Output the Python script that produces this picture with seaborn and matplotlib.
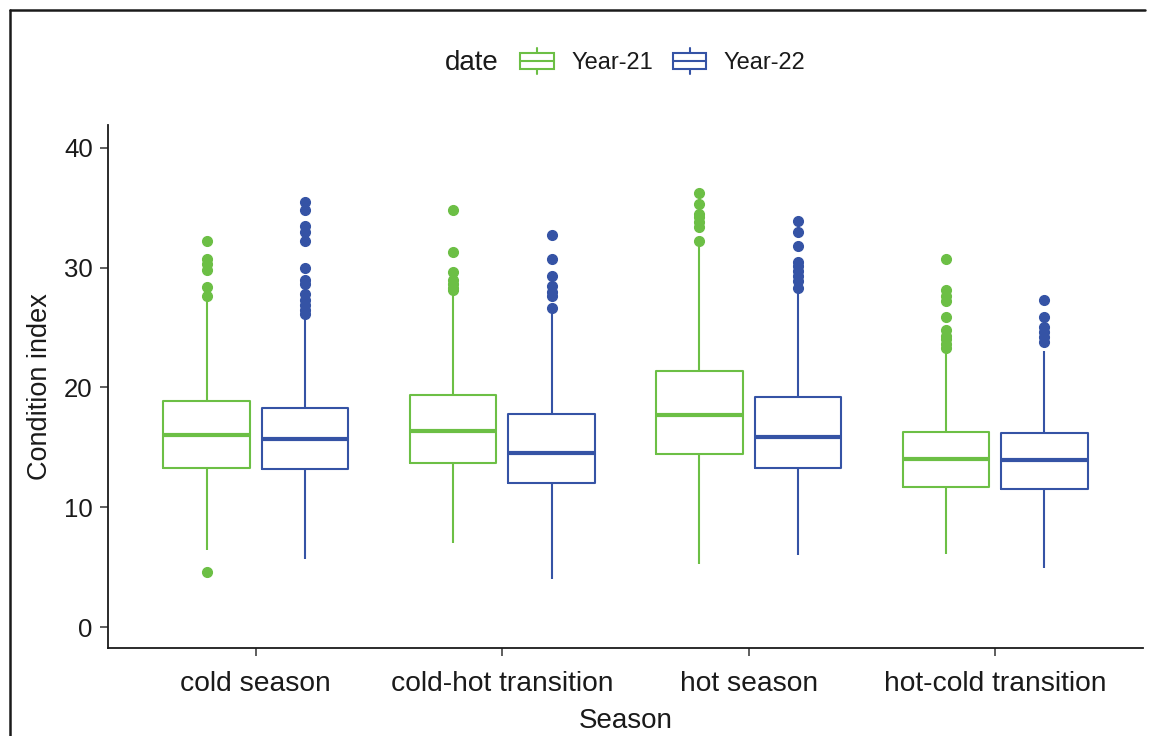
import matplotlib
matplotlib.use("Agg")
import matplotlib.pyplot as plt
from matplotlib.lines import Line2D
from matplotlib.patches import Patch, Rectangle
from matplotlib.legend_handler import HandlerBase
import seaborn as sns
import pandas as pd

# ---------------- data ----------------
seasons = ["cold season", "cold-hot transition", "hot season", "hot-cold transition"]
years = ["Year-21", "Year-22"]

# Year-21 box statistics per season
q1_21 = [13.3, 13.7, 14.4, 11.7]
med_21 = [16.0, 16.4, 17.7, 14.0]
q3_21 = [18.9, 19.4, 21.4, 16.3]
lo_21 = [6.4, 7.0, 5.3, 6.1]
hi_21 = [27.2, 27.8, 31.8, 22.9]
out_21 = [
    [4.6, 27.6, 28.4, 29.8, 30.3, 30.7, 32.2],
    [28.1, 28.3, 28.6, 29.0, 29.6, 31.3, 34.8],
    [32.2, 33.4, 33.8, 34.2, 34.5, 35.3, 36.2],
    [23.3, 23.6, 24.0, 24.3, 24.8, 25.9, 27.2, 27.6, 28.1, 30.7],
]

# Year-22 box statistics per season
q1_22 = [13.2, 12.0, 13.3, 11.5]
med_22 = [15.7, 14.5, 15.9, 13.9]
q3_22 = [18.3, 17.8, 19.2, 16.2]
lo_22 = [5.7, 4.0, 6.0, 4.9]
hi_22 = [25.9, 26.3, 27.9, 23.0]
out_22 = [
    [26.1, 26.5, 26.9, 27.3, 27.8, 28.6, 29.0, 30.0, 32.2, 33.0, 33.5, 34.8, 35.5],
    [26.6, 27.6, 28.0, 28.5, 29.3, 30.7, 32.7],
    [28.3, 28.9, 29.3, 29.7, 30.1, 30.5, 31.8, 33.0, 33.9],
    [23.8, 24.2, 24.6, 25.0, 25.9, 27.3],
]

colors = {"Year-21": "#6CBF45", "Year-22": "#3553A5"}

# Build a small table whose box statistics reproduce the values above
WEIGHT = 100
rows = []
for year, q1s, meds, q3s, los, his, outs in [
    ("Year-21", q1_21, med_21, q3_21, lo_21, hi_21, out_21),
    ("Year-22", q1_22, med_22, q3_22, lo_22, hi_22, out_22),
]:
    for i, s in enumerate(seasons):
        vals = [los[i], his[i]] + [q1s[i]] * WEIGHT + [meds[i]] * WEIGHT + [q3s[i]] * WEIGHT + outs[i]
        rows += [(s, year, v) for v in vals]
df = pd.DataFrame(rows, columns=["Season", "date", "Condition index"])

# ---------------- style ----------------
sns.set_style("ticks")
plt.rcParams["font.family"] = ["Liberation Sans", "DejaVu Sans"]
ink = "#1a1a1a"

fig = plt.figure(figsize=(11.52, 7.36), dpi=100)
ax = fig.add_axes([108 / 1152, 1 - 648 / 736, (1143 - 108) / 1152, (648 - 125) / 736])

sns.boxplot(
    data=df, x="Season", y="Condition index", hue="date",
    order=seasons, hue_order=years, palette=colors,
    fill=False, width=0.8, gap=0.125, showcaps=False, linewidth=1.5,
    medianprops={"linewidth": 3},
    flierprops={"marker": "o", "markersize": 7},
    legend=False, ax=ax,
)
for ln in ax.lines:
    if ln.get_marker() == "o":
        ln.set_markerfacecolor(ln.get_markeredgecolor())

ax.set_xlim(-0.6, 3.6)
ax.set_ylim(-1.75, 41.9)
ax.set_yticks([0, 10, 20, 30, 40])
ax.set_xlabel("Season", fontsize=20, color=ink, labelpad=8)
ax.set_ylabel("Condition index", fontsize=19.5, color=ink, labelpad=8)
ax.tick_params(axis="both", direction="out", length=6, width=1.1, color="#333333",
               labelcolor=ink)
ax.tick_params(axis="y", labelsize=18.5, pad=5)
ax.tick_params(axis="x", labelsize=20.3, pad=10.5)
for side in ["top", "right"]:
    ax.spines[side].set_visible(False)
for side in ["left", "bottom"]:
    ax.spines[side].set_color(ink)
    ax.spines[side].set_linewidth(1.3)


class BoxKey(HandlerBase):
    def create_artists(self, legend, orig, xd, yd, w, h, fs, trans):
        c = orig.get_edgecolor()
        x0, y0 = -xd, -yd
        bh = h * 0.62
        by = y0 + (h - bh) / 2
        rect = Rectangle((x0, by), w, bh, facecolor="white", edgecolor=c, lw=1.5, transform=trans)
        med = Line2D([x0, x0 + w], [y0 + h / 2] * 2, color=c, lw=1.5, transform=trans)
        wl = Line2D([x0 + w / 2] * 2, [y0, by], color=c, lw=1.5, transform=trans)
        wh = Line2D([x0 + w / 2] * 2, [by + bh, y0 + h], color=c, lw=1.5, transform=trans)
        return [wl, wh, rect, med]


handles = [Patch(facecolor="white", edgecolor=colors[y]) for y in years]
fig.legend(handles=handles, labels=years, handler_map={Patch: BoxKey()},
           loc="center", bbox_to_anchor=(663 / 1152, 1 - 61 / 736), ncol=2,
           frameon=False, fontsize=17, handlelength=1.4, handleheight=1.35,
           handletextpad=0.75, columnspacing=0.85, labelcolor=ink)
fig.text(445 / 1152, 1 - 63 / 736, "date", fontsize=20, color=ink, ha="left", va="center")

# outer border
fig.add_artist(Line2D([10 / 1152, 10 / 1152], [0, 1 - 10 / 736], transform=fig.transFigure,
                      color=ink, lw=1.8))
fig.add_artist(Line2D([10 / 1152, 1145 / 1152], [1 - 10 / 736] * 2, transform=fig.transFigure,
                      color=ink, lw=1.8))

fig.savefig("out.png", dpi=100)
